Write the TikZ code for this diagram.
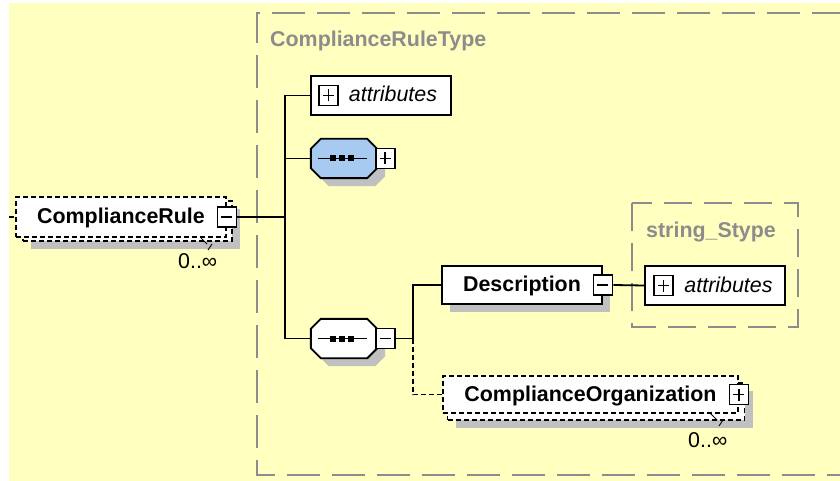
\documentclass[tikz,border=0pt]{standalone}
\usepackage{fontspec}
\setmainfont{Liberation Sans}
\usepackage{tikz}
\usetikzlibrary{positioning,shadows}
\definecolor{bgyellow}{HTML}{FFFFC0}
\definecolor{framegray}{HTML}{8C8C8C}
\definecolor{shadegray}{HTML}{C0C0C0}
\definecolor{seqblue}{HTML}{A6CAF0}
\tikzstyle{elem}=[draw, fill=white, rectangle, line width=1.9pt, minimum height=38pt, inner sep=0pt,
  text height=17pt, text depth=4pt, font=\fontsize{21.4}{25}\selectfont\bfseries]
\tikzstyle{optional}=[dash pattern=on 5pt off 3pt]
\tikzstyle{shade}=[drop shadow={shadow xshift=8pt, shadow yshift=-8pt, fill=shadegray, opacity=1}]
\tikzstyle{attr}=[draw, fill=white, rectangle, line width=1.9pt, minimum width=140pt, minimum height=39pt, inner sep=0pt,
  text height=17pt, text depth=4pt, font=\fontsize{21.4}{25}\selectfont\itshape]
\tikzstyle{seqbox}=[rectangle, minimum width=66pt, minimum height=39pt, inner sep=0pt]
\tikzstyle{expander}=[draw, fill=white, rectangle, line width=1.8pt, minimum width=19pt, minimum height=20pt, inner sep=0pt]
\tikzstyle{plus}=[expander, path picture={
    \draw[line width=1.8pt] ([xshift=4pt]path picture bounding box.west) -- ([xshift=-4pt]path picture bounding box.east);
    \draw[line width=1.8pt] ([yshift=4pt]path picture bounding box.south) -- ([yshift=-4pt]path picture bounding box.north);
  }]
\tikzstyle{minus}=[expander, path picture={
    \draw[line width=1.8pt] ([xshift=4pt]path picture bounding box.west) -- ([xshift=-4pt]path picture bounding box.east);
  }]
\tikzstyle{conn}=[line width=1.8pt]
\tikzstyle{typeframe}=[draw=framegray, line width=1.7pt]
\tikzstyle{typelabel}=[text=framegray, inner sep=0pt, font=\fontsize{21.4}{25}\selectfont\bfseries]
\tikzstyle{card}=[inner sep=0pt, font=\fontsize{21.4}{25}\selectfont]

\begin{document}
\begin{tikzpicture}[x=1pt, y=-1pt]

\useasboundingbox (0,0) rectangle (840,481);
\fill[white] (0,0) rectangle (840,481);
\fill[bgyellow] (9,3) rectangle (840,481);

% complex types
\draw[typeframe, dash pattern=on 33pt off 12pt] (845,13) -- (257,13) -- (257,475) -- (845,475);
\node[typelabel, anchor=base west] (crtLabel) at (270,47) {ComplianceRuleType};
\draw[typeframe, dash pattern=on 28pt off 12pt] (632,203) rectangle (798,327);
\node[typelabel, anchor=base west] (sstLabel) at (646,237) {string\_Stype};

% ComplianceRule
\node[elem, optional, shade, minimum width=209pt, minimum height=40pt] (crBack) at (127.5,221) {};
\node[elem, optional, minimum width=210pt, minimum height=40pt] (cr) at (121,217) {ComplianceRule};
\node[minus] (crIcon) at (cr.east) {};
\draw[line width=0.9pt] (201,238) -- (207,244);
\draw[line width=0.9pt] (212,244) -- (208,250);
\node[card, anchor=base west] (crCard) at (178,268) {0..∞};

% content of ComplianceRuleType
\node[attr] (attrA) at (381,95.5) {\hspace{24pt}attributes};
\node[plus] (attrAIcon) at ([xshift=18.5pt]attrA.west) {};

% sequences
\node[seqbox] (seqA) at (344,158.5) {};
\node[seqbox] (seqB) at (344,338.5) {};
\foreach \s/\c in {seqA/seqblue, seqB/white} {
  \draw[line width=1.9pt, fill=\c, shade] ([xshift=10pt]\s.north west) -- ([xshift=-10pt]\s.north east)
    -- ([yshift=-10pt]\s.north east) -- ([yshift=10pt]\s.south east) -- ([xshift=-10pt]\s.south east)
    -- ([xshift=10pt]\s.south west) -- ([yshift=10pt]\s.south west) -- ([yshift=-10pt]\s.north west) -- cycle;
  \draw[line width=1.8pt] ([xshift=7pt]\s.west) -- ([xshift=-10pt]\s.east);
  \foreach \dx in {-11.5,-2,7}
    \fill ([xshift=\dx pt-3pt, yshift=-3pt]\s.center) rectangle ([xshift=\dx pt+3pt, yshift=3pt]\s.center);
}
\node[plus] (seqAIcon) at ([xshift=8pt]seqA.east) {};
\node[minus] (seqBIcon) at ([xshift=8pt]seqB.east) {};

% Description
\node[elem, shade, minimum width=160pt] (desc) at (522,285) {Description};
\node[minus] (descIcon) at (desc.east) {};
\node[attr] (attrB) at (715,285.5) {\hspace{27pt}attributes};
\node[plus] (attrBIcon) at ([xshift=19.5pt]attrB.west) {};

% ComplianceOrganization
\node[elem, optional, shade, minimum width=297pt, minimum height=37pt] (orgBack) at (596,401.5) {};
\node[elem, optional, minimum width=295pt, minimum height=37pt] (org) at (590.5,394.5) {ComplianceOrganization\hspace{20pt}};
\node[plus] (orgIcon) at (org.east) {};
\draw[line width=0.9pt] (710,413) -- (717,420);
\draw[line width=0.9pt] (723,420) -- (719,426);
\node[card, anchor=base west] (orgCard) at (688,447) {0..∞};

% connectors
\coordinate (crIn) at (9,217);
\draw[conn, optional] (crIn) -- (cr.west);
\coordinate (trunk) at (285,217);
\draw[conn] (crIcon.east) -- (trunk);
\draw[conn] (attrA.west) -| (trunk);
\draw[conn] (seqA.west) -| (trunk);
\draw[conn] (seqB.west) -| (trunk);
\coordinate (fork) at (413,338.5);
\draw[conn] (seqBIcon.east) -- (fork);
\draw[conn] (fork) |- (desc.west);
\draw[conn, optional] (fork) |- (org.west);
\draw[conn] (descIcon.east) -- (attrB.west);

\end{tikzpicture}
\end{document}
